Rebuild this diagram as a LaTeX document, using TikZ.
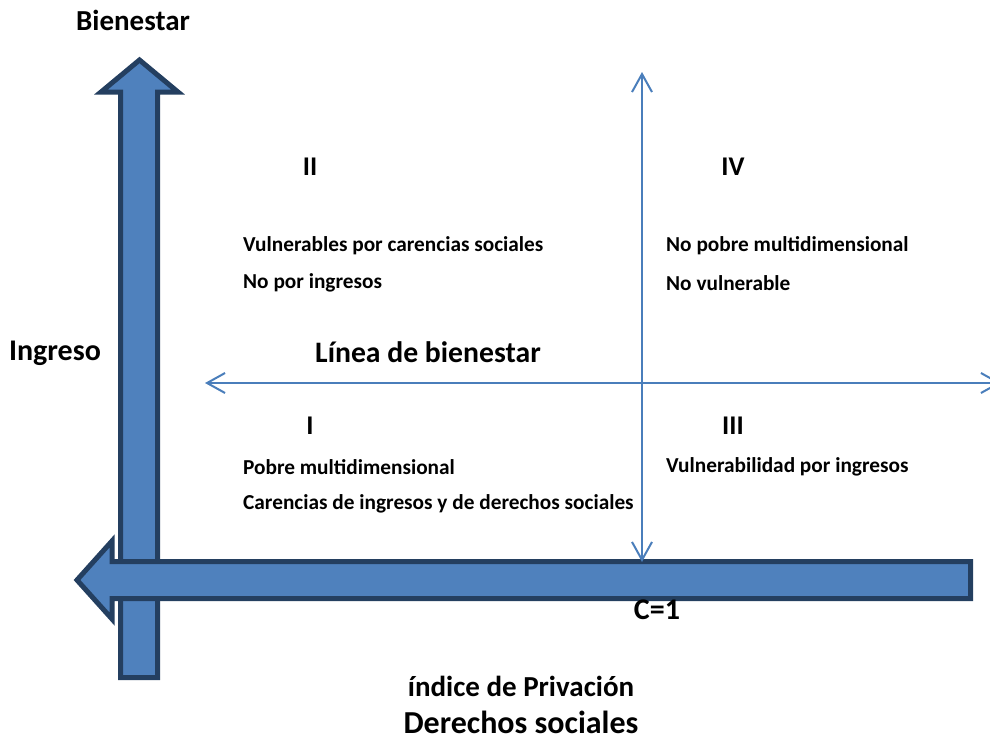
\documentclass[tikz,border=0pt]{standalone}
\usepackage{fontspec}
\setmainfont{Carlito}
\usetikzlibrary{arrows.meta}
\definecolor{blockfill}{HTML}{4F81BD}
\definecolor{blockline}{HTML}{243F60}
\definecolor{thinline}{HTML}{4A7EBB}
\tikzset{
  block/.style={fill=blockfill,draw=blockline,line width=5pt,line join=miter},
  thin/.style={draw=thinline,line width=2pt,{Straight Barb[length=18pt,width=20pt,line width=2pt]}-{Straight Barb[length=18pt,width=20pt,line width=2pt]}},
  lbl/.style={font=\bfseries\fontsize{21.3}{24}\selectfont,inner sep=0pt,anchor=west},
  big/.style={font=\bfseries\fontsize{29}{33}\selectfont,inner sep=0pt},
  num/.style={font=\bfseries\fontsize{27}{30}\selectfont,inner sep=0pt}
}
\begin{document}
\begin{tikzpicture}[x=1pt,y=-1pt]
\useasboundingbox (0,0) rectangle (990,740);
\begin{scope}
\clip (0,0) rectangle (990,740);
% vertical block arrow
\path[block] (120.5,677.5) -- (120.5,92) -- (101,92) -- (139.5,60) -- (178,92) -- (157.5,92) -- (157.5,677.5) -- cycle;
% horizontal block arrow
\path[block] (970.5,561.5) -- (112,561.5) -- (112,541) -- (77,580) -- (112,619) -- (112,598.5) -- (970.5,598.5) -- cycle;
% thin axes
\coordinate (vt) at (642,72);
\coordinate (vb) at (642,562);
\coordinate (hl) at (205,383);
\coordinate (hr) at (1001,383);
\draw[thin] (vb) -- (vt);
\draw[thin] (hl) -- (hr);
\end{scope}
% labels
\node[big] (bien) at (133,20) {Bienestar};
\node[big,font=\bfseries\fontsize{30}{34}\selectfont] (ing) at (55,353) {Ingreso};
\node[big,font=\bfseries\fontsize{29.7}{34}\selectfont] (linea) at (428,352) {Línea de bienestar};
\node[num] (q2) at (310,167) {II};
\node[num] (q4) at (733,167) {IV};
\node[num] (q1) at (310,426) {I};
\node[num] (q3) at (733,426) {III};
\node[lbl] (t2a) at (243,246) {Vulnerables por carencias sociales};
\node[lbl] (t2b) at (243,283) {No por ingresos};
\node[lbl] (t4a) at (666,246) {No pobre multidimensional};
\node[lbl] (t4b) at (666,283) {No vulnerable};
\node[lbl] (t1a) at (243,467) {Pobre multidimensional};
\node[lbl] (t1b) at (243,504) {Carencias de ingresos y de derechos sociales};
\node[lbl] (t3a) at (666,467) {Vulnerabilidad por ingresos};
\node[big,font=\bfseries\fontsize{30}{34}\selectfont] (c1) at (657,610) {C=1};
\node[big] (ind) at (521,686) {índice de Privación};
\node[big,font=\bfseries\fontsize{32}{36}\selectfont] (der) at (521,722) {Derechos sociales};
\end{tikzpicture}
\end{document}
